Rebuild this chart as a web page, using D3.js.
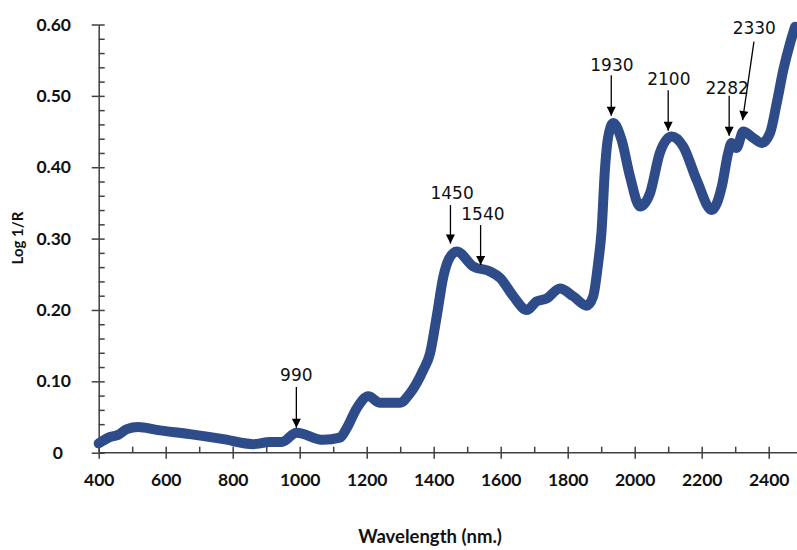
<!DOCTYPE html>
<html>
<head>
<meta charset="utf-8">
<script src="https://cdn.jsdelivr.net/npm/d3@7"></script>
<style>
  body { margin: 0; background: #fff; }
  svg { display: block; }
</style>
</head>
<body>
<svg id="chart" width="797" height="550"></svg>
<script>
// Spectrum: wavelength (nm) and absorbance log(1/R)
const wavelengths = [400, 434, 458, 484, 518, 573, 672, 772, 861, 911, 946, 991, 1070, 1120, 1140, 1170,
  1205, 1240, 1299, 1329, 1369, 1389, 1409, 1429, 1444, 1469, 1518, 1568, 1598, 1638, 1678, 1707,
  1737, 1777, 1817, 1857, 1876, 1891, 1901, 1911, 1921, 1936, 1961, 1986, 2016, 2046, 2075, 2110,
  2145, 2185, 2230, 2260, 2279, 2289, 2304, 2324, 2354, 2379, 2404, 2424, 2444, 2464, 2479];
const logR = [0.013, 0.022, 0.025, 0.033, 0.036, 0.032, 0.026, 0.019, 0.012, 0.015, 0.015, 0.028, 0.018, 0.021, 0.034, 0.062,
  0.079, 0.070, 0.070, 0.083, 0.116, 0.139, 0.191, 0.247, 0.270, 0.282, 0.261, 0.254, 0.245, 0.219, 0.200, 0.212,
  0.216, 0.230, 0.219, 0.206, 0.219, 0.266, 0.310, 0.396, 0.443, 0.462, 0.438, 0.387, 0.345, 0.364, 0.420, 0.443,
  0.429, 0.382, 0.340, 0.373, 0.420, 0.434, 0.427, 0.450, 0.441, 0.434, 0.448, 0.490, 0.537, 0.574, 0.597];

// Axis ticks
const xMajorTicks = [400, 600, 800, 1000, 1200, 1400, 1600, 1800, 2000, 2200, 2400];
const xMinorTicks = [500, 700, 900, 1100, 1300, 1500, 1700, 1900, 2100, 2300];
const yMajorTicks = [0, 0.1, 0.2, 0.3, 0.4, 0.5, 0.6];
const yMinorTicks = [0.02, 0.04, 0.06, 0.08, 0.12, 0.14, 0.16, 0.18, 0.22, 0.24, 0.26, 0.28,
  0.32, 0.34, 0.36, 0.38, 0.42, 0.44, 0.46, 0.48, 0.52, 0.54, 0.56, 0.58];

// Peak annotations: label text (nm), arrow tip / tail and label anchor in data units
const peakLabels = ["990", "1450", "1540", "1930", "2100", "2282", "2330"];
const peakTipNm = [990, 1450, 1540, 1930, 2100, 2282, 2322];
const peakTipLog = [0.035, 0.293, 0.263, 0.472, 0.451, 0.444, 0.466];
const peakTailNm = [990, 1450, 1540, 1930, 2100, 2282, 2356];
const peakTailLog = [0.092, 0.347, 0.319, 0.529, 0.508, 0.500, 0.576];
const peakTextNm = [990, 1455, 1547, 1932, 2102, 2276, 2357];
const peakTextLog = [0.100, 0.355, 0.326, 0.535, 0.515, 0.503, 0.587];

const W = 797, H = 550;
const svg = d3.select("#chart");
const axisColor = "#404040";
const lineColor = "#2E4C89";

const x = d3.scaleLinear().domain([400, 2480]).range([98.7, 795.5]);
const y = d3.scaleLinear().domain([0, 0.6]).range([452.7, 24.5]);

// X axis
const gx = svg.append("g").attr("transform", `translate(0,${y(0)})`);
gx.call(d3.axisBottom(x).tickValues(xMajorTicks).tickSize(6).tickSizeOuter(0).tickFormat(d3.format("d")));
gx.select(".domain").remove();
gx.append("line").attr("x1", x.range()[0]).attr("x2", W).attr("y1", 0).attr("y2", 0)
  .attr("stroke", axisColor).attr("stroke-width", 1.5);
gx.selectAll(".tick line").attr("stroke", axisColor).attr("stroke-width", 1.5);
gx.selectAll(".tick text").attr("y", 33.5).attr("dy", null)
  .attr("fill", "#111").style("font", "bold 17.5px Lato");
const gxUp = svg.append("g").attr("transform", `translate(0,${y(0)})`);
gxUp.call(d3.axisTop(x).tickValues(xMajorTicks.concat(xMinorTicks)).tickSize(6).tickFormat(""));
gxUp.select(".domain").remove();
gxUp.selectAll(".tick line").attr("stroke", axisColor).attr("stroke-width", 1.5);

// Y axis
const gy = svg.append("g").attr("transform", `translate(${x(400)},0)`);
gy.call(d3.axisLeft(y).tickValues(yMajorTicks).tickSize(7).tickSizeOuter(0)
  .tickFormat(d => d === 0 ? "0" : d3.format(".2f")(d)));
gy.select(".domain").attr("stroke", axisColor).attr("stroke-width", 1.5);
gy.selectAll(".tick line").attr("stroke", axisColor).attr("stroke-width", 1.5);
gy.selectAll(".tick text").attr("x", d => d === 0 ? -35.7 : -27.7)
  .attr("fill", "#111").style("font", "bold 17.5px Lato");
const gyIn = svg.append("g").attr("transform", `translate(${x(400)},0)`);
gyIn.call(d3.axisRight(y).tickValues(yMajorTicks.concat(yMinorTicks)).tickSize(6).tickFormat(""));
gyIn.select(".domain").remove();
gyIn.selectAll(".tick line").attr("stroke", axisColor).attr("stroke-width", 1.5);

// Axis titles
svg.append("text")
  .attr("transform", `translate(23,238) rotate(-90)`)
  .attr("text-anchor", "middle")
  .attr("fill", "#111")
  .style("font", "bold 15px Lato")
  .text("Log 1/R");
svg.append("text")
  .attr("x", 430).attr("y", 543)
  .attr("text-anchor", "middle")
  .attr("fill", "#111")
  .style("font", "bold 18.5px Lato")
  .text("Wavelength (nm.)");

// Spectrum curve
const pts = wavelengths.map((w, i) => [w, logR[i]]);
const line = d3.line().x(d => x(d[0])).y(d => y(d[1])).curve(d3.curveMonotoneX);
svg.append("path")
  .datum(pts)
  .attr("d", line)
  .attr("fill", "none")
  .attr("stroke", lineColor)
  .attr("stroke-width", 10)
  .attr("stroke-linecap", "round")
  .attr("stroke-linejoin", "round");

// Peak arrows and labels
svg.append("defs").append("marker")
  .attr("id", "arrowhead")
  .attr("viewBox", "0 0 10 10")
  .attr("refX", 10).attr("refY", 5)
  .attr("markerUnits", "userSpaceOnUse")
  .attr("markerWidth", 10).attr("markerHeight", 9)
  .attr("orient", "auto")
  .append("path").attr("d", "M0,0 L10,5 L0,10 Z").attr("fill", "#000");

const ann = svg.append("g");
peakLabels.forEach((lab, i) => {
  ann.append("line")
    .attr("x1", x(peakTailNm[i])).attr("y1", y(peakTailLog[i]))
    .attr("x2", x(peakTipNm[i])).attr("y2", y(peakTipLog[i]))
    .attr("stroke", "#000").attr("stroke-width", 1.3)
    .attr("marker-end", "url(#arrowhead)");
  ann.append("text")
    .attr("x", x(peakTextNm[i])).attr("y", y(peakTextLog[i]))
    .attr("text-anchor", "middle")
    .attr("fill", "#111")
    .style("font", "17px 'DejaVu Sans'")
    .text(lab);
});
</script>
</body>
</html>
